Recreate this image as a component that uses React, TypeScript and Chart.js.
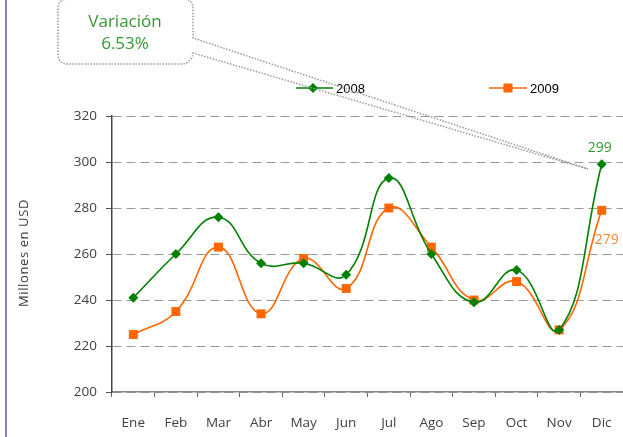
import React, { useEffect, useRef } from "react";
import { Chart, registerables } from "chart.js";

Chart.register(...registerables);

const months = ["Ene", "Feb", "Mar", "Abr", "May", "Jun", "Jul", "Ago", "Sep", "Oct", "Nov", "Dic"];
const values2008 = [241, 260, 276, 256, 256, 251, 293, 260, 239, 253, 227, 299];
const values2009 = [225, 235, 263, 234, 258, 245, 280, 263, 240, 248, 227, 279];
const seriesNames = ["2008", "2009"];
const yTitle = "Millones en USD";
const calloutLines = ["Variación", "6.53%"];

const GREEN = "#008000";
const ORANGE = "#FF6600";
const FONT = "'Open Sans', 'DejaVu Sans', sans-serif";

const decorPlugin = {
  id: "decor",
  afterDraw(chart: any) {
    const ctx = chart.ctx as CanvasRenderingContext2D;
    ctx.save();
    // left purple rule
    ctx.fillStyle = "#8484C4";
    ctx.fillRect(5, 0, 2, chart.height);

    // y axis title
    ctx.save();
    ctx.translate(24, 253);
    ctx.rotate(-Math.PI / 2);
    ctx.fillStyle = "#404040";
    ctx.font = "13px " + FONT;
    (ctx as any).letterSpacing = "0.6px";
    ctx.textAlign = "center";
    ctx.textBaseline = "middle";
    ctx.fillText(yTitle, 0, 0);
    ctx.restore();

    // legend
    const drawLegend = (x1: number, x2: number, mx: number, y: number, color: string, shape: string, label: string, tx: number) => {
      ctx.strokeStyle = color;
      ctx.lineWidth = 1.5;
      ctx.beginPath();
      ctx.moveTo(x1, y);
      ctx.lineTo(x2, y);
      ctx.stroke();
      ctx.fillStyle = color;
      ctx.beginPath();
      if (shape === "diamond") {
        ctx.moveTo(mx, y - 5);
        ctx.lineTo(mx + 5, y);
        ctx.lineTo(mx, y + 5);
        ctx.lineTo(mx - 5, y);
        ctx.closePath();
      } else {
        ctx.rect(mx - 4.5, y - 4.5, 9, 9);
      }
      ctx.fill();
      ctx.fillStyle = "#000";
      ctx.font = "13px 'Liberation Sans', Arial, sans-serif";
      ctx.textAlign = "left";
      ctx.textBaseline = "middle";
      ctx.fillText(label, tx, y + 1);
    };
    drawLegend(296, 333, 313, 88, GREEN, "diamond", seriesNames[0], 336);
    drawLegend(489, 527, 508, 88, ORANGE, "square", seriesNames[1], 530);

    // callout
    ctx.strokeStyle = "#9a9a9a";
    ctx.lineWidth = 1.5;
    ctx.setLineDash([1.5, 1.5]);
    const tipX = 588, tipY = 169;
    ctx.beginPath();
    const L = 58, T = -1, R = 193, B = 64, r = 10;
    ctx.moveTo(L + r, T);
    ctx.lineTo(R - r, T);
    ctx.quadraticCurveTo(R, T, R, T + r);
    ctx.lineTo(R, 38);
    ctx.lineTo(tipX, tipY);
    ctx.lineTo(R, 53);
    ctx.quadraticCurveTo(R - 2, B, R - 12, B);
    ctx.lineTo(L + r, B);
    ctx.quadraticCurveTo(L, B, L, B - r);
    ctx.lineTo(L, T + r);
    ctx.quadraticCurveTo(L, T, L + r, T);
    ctx.closePath();
    ctx.stroke();
    ctx.setLineDash([]);
    ctx.fillStyle = "#339933";
    ctx.font = "17px " + FONT;
    ctx.textAlign = "center";
    ctx.textBaseline = "middle";
    ctx.fillText(calloutLines[0], 125, 22);
    ctx.fillText(calloutLines[1], 125, 44);

    // data labels for last points
    const m0 = chart.getDatasetMeta(0).data;
    const m1 = chart.getDatasetMeta(1).data;
    const p0 = m0[m0.length - 1];
    const p1 = m1[m1.length - 1];
    ctx.font = "14px " + FONT;
    ctx.textAlign = "center";
    ctx.fillStyle = "#339933";
    ctx.fillText(String(values2008[values2008.length - 1]), p0.x - 2, p0.y - 16);
    ctx.fillStyle = "#FF8833";
    ctx.fillText(String(values2009[values2009.length - 1]), p1.x + 5, p1.y + 30);
    ctx.restore();
  },
};

export default function App() {
  const ref = useRef<HTMLCanvasElement>(null);
  useEffect(() => {
    document.body.style.margin = "0";
    const chart = new Chart(ref.current as HTMLCanvasElement, {
      type: "line",
      data: {
        labels: months,
        datasets: [
          {
            label: seriesNames[0],
            data: values2008,
            borderColor: GREEN,
            backgroundColor: GREEN,
            borderWidth: 1.6,
            pointStyle: "rectRot",
            pointRadius: 5,
            pointBorderWidth: 0,
            tension: 0.45,
            clip: false,
          },
          {
            label: seriesNames[1],
            data: values2009,
            borderColor: ORANGE,
            backgroundColor: ORANGE,
            borderWidth: 1.6,
            pointStyle: "rect",
            pointRadius: 6.3,
            pointBorderWidth: 0,
            tension: 0.45,
            clip: false,
          },
        ],
      },
      options: {
        animation: false,
        responsive: false,
        maintainAspectRatio: false,
        layout: { autoPadding: false, padding: { top: 116, left: 0, right: 0, bottom: 0 } },
        plugins: { legend: { display: false }, tooltip: { enabled: false } },
        scales: {
          x: {
            offset: true,
            grid: { offset: true, drawOnChartArea: false, drawTicks: true, tickLength: 5, tickColor: "#666" },
            border: { color: "#888", width: 1.5 },
            ticks: { color: "#404040", font: { size: 13.5, family: FONT }, padding: 18 },
            afterFit: (s: any) => { s.height = 45; s.paddingLeft = 0; s.paddingRight = 0; },
          },
          y: {
            min: 200,
            max: 320,
            ticks: { stepSize: 20, color: "#404040", font: { size: 13.5, family: FONT }, padding: 9 },
            grid: { color: "#9a9a9a", lineWidth: 1, tickLength: 6, tickColor: "#555" },
            border: { color: "#444", width: 1.5, dash: [9, 5] },
            afterFit: (s: any) => { s.width = 112; s.paddingTop = 0; s.paddingBottom = 0; },
          },
        },
      },
      plugins: [decorPlugin],
    } as any);
    return () => chart.destroy();
  }, []);
  return (
    <div style={{ width: 623, height: 437 }}>
      <canvas ref={ref} width={623} height={437} style={{ display: "block" }} />
    </div>
  );
}
